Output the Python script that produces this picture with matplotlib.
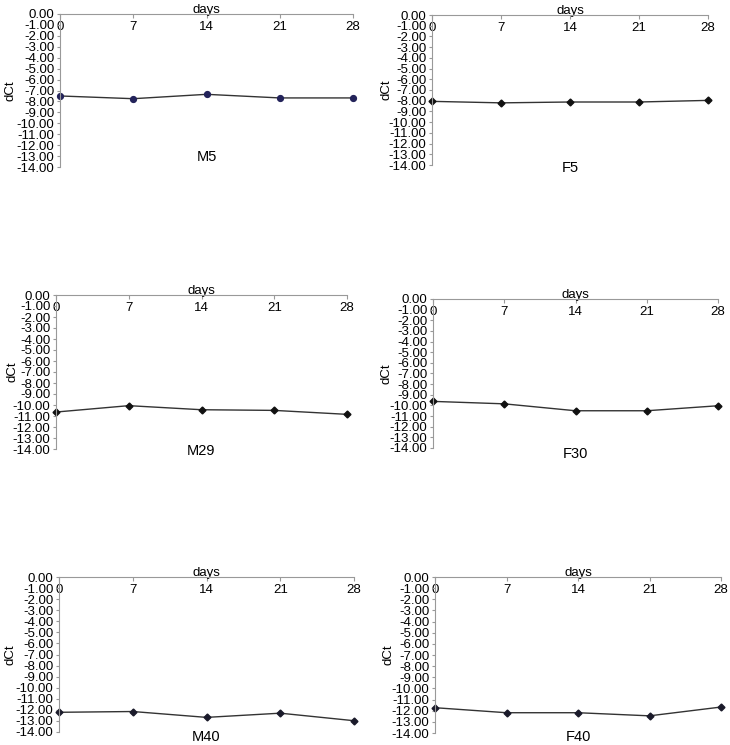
import matplotlib.pyplot as plt

plt.rcParams['font.family'] = ['Liberation Sans', 'DejaVu Sans']

days = [0, 7, 14, 21, 28]
m5 = [-7.50, -7.75, -7.35, -7.68, -7.68]
f5 = [-8.06, -8.20, -8.12, -8.12, -7.97]
m29 = [-10.64, -10.06, -10.43, -10.49, -10.85]
f30 = [-9.62, -9.85, -10.50, -10.50, -10.03]
m40 = [-12.22, -12.15, -12.68, -12.30, -12.98]
f40 = [-11.73, -12.18, -12.18, -12.46, -11.67]
y_ticks = [0, -1, -2, -3, -4, -5, -6, -7, -8, -9, -10, -11, -12, -13, -14]

# (series, name, left, right, top, bottom, name y, dCt right edge  -- px), marker, marker colour
panels = [
    (m5, 'M5', 60, 353, 14, 167, 157, 17, 'o', '#23235a'),
    (f5, 'F5', 432, 708, 15, 165, 168, 392, 'D', '#111111'),
    (m29, 'M29', 56, 347, 295, 449, 451, 18, 'D', '#111111'),
    (f30, 'F30', 433, 718, 299, 448, 454, 393, 'D', '#111111'),
    (m40, 'M40', 59, 354, 577, 732, 737, 17, 'D', '#1a1a2a'),
    (f40, 'F40', 435, 721, 577, 733, 737, 394, 'D', '#1a1a2a'),
]

W, H = 730, 745
fig = plt.figure(figsize=(W / 100, H / 100), dpi=100)

for vals, name, l, r, t, b, ny, lx, mk, mc in panels:
    ax = fig.add_axes([l / W, 1 - b / H, (r - l) / W, (b - t) / H])
    ax.plot(days, vals, color='#333333', lw=1.0, marker=mk,
            ms=4.2 if mk == 'o' else 3.5, mfc=mc, mec=mc, clip_on=False)
    ax.set_xlim(0, 28)
    ax.set_ylim(-14, 0)
    ax.set_xticks(days)
    ax.set_yticks(y_ticks)
    ax.set_yticklabels([f'{v:.2f}' for v in y_ticks])
    ax.spines['right'].set_visible(False)
    ax.spines['bottom'].set_visible(False)
    for s in ('top', 'left'):
        ax.spines[s].set_color('#999999')
        ax.spines[s].set_linewidth(0.8)
    ax.tick_params(axis='x', top=True, bottom=False, labeltop=True,
                   labelbottom=False, direction='in', length=3, pad=-14,
                   color='#999999', labelsize=9.5)
    ax.tick_params(axis='y', direction='out', length=2, pad=2,
                   color='#999999', labelsize=9.5)
    ax.xaxis.set_label_position('top')
    ax.set_xlabel('days', fontsize=9.5, labelpad=1)
    ax.set_ylabel('dCt', fontsize=9.5)
    ax.yaxis.set_label_coords(lx / W, 1 - (t + b) / 2 / H,
                              transform=fig.transFigure)
    ax.text(0.5, (b - ny) / (b - t), name, transform=ax.transAxes,
            ha='center', va='center', fontsize=10.5)

fig.savefig('out.png', dpi=100)
